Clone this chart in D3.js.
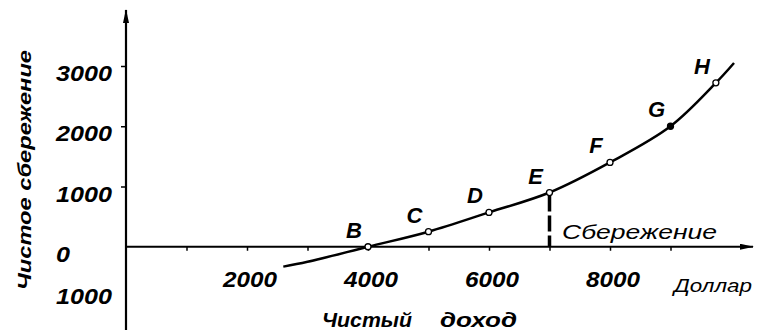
<!DOCTYPE html>
<html>
<head>
<meta charset="utf-8">
<script src="https://cdn.jsdelivr.net/npm/d3@7"></script>
<style>
  body { margin: 0; background: #fff; }
  svg { display: block; }
  .lbl { font-family: 'Liberation Sans', Arial, sans-serif; font-style: italic; font-weight: bold; fill: #000; }
</style>
</head>
<body>
<div id="chart"></div>
<script>
// curve of saving against income
const incomeValues = [2600, 3000, 4000, 5000, 6000, 7000, 8000, 9000, 9750, 10050];
const savingValues = [-330, -250, 0, 250, 570, 900, 1400, 2000, 2720, 3050];

// marked points
const pointLabels = ['B', 'C', 'D', 'E', 'F', 'G', 'H'];
const pointIncome = [4000, 5000, 6000, 7000, 8000, 9000, 9750];
const pointSaving = [0, 250, 570, 900, 1400, 2000, 2720];
const filledPoints = ['G'];

// ticks
const xTicks = [1000, 2000, 3000, 4000, 5000, 6000, 7000, 8000, 9000];
const xTickLabels = [2000, 4000, 6000, 8000];
const yTicks = [1000, 2000, 3000];
const yTickLabels = [3000, 2000, 1000, 0, -1000];

const savingIncome = 7000;

//Chart dimensions
const width = 763;
const height = 333;

// Scale
const xScale = d3.scaleLinear()
  .domain([0, 10000])
  .range([126, 731]);

const yScale = d3.scaleLinear()
  .domain([-1000, 3000])
  .range([307, 66]);

const svg = d3.select('#chart').append('svg')
  .attr('width', width)
  .attr('height', height);

const defs = svg.append('defs');
defs.append('marker')
  .attr('id', 'arrow')
  .attr('viewBox', '0 0 14 6')
  .attr('refX', 13)
  .attr('refY', 3)
  .attr('markerWidth', 14)
  .attr('markerHeight', 6)
  .attr('markerUnits', 'userSpaceOnUse')
  .attr('orient', 'auto')
  .append('path')
  .attr('d', 'M0,0 L14,3 L0,6 Z')
  .attr('fill', '#000');

//Axes lines with arrows
svg.append('line')
  .attr('x1', xScale(0)).attr('x2', 753)
  .attr('y1', yScale(0)).attr('y2', yScale(0))
  .attr('stroke', '#000').attr('stroke-width', 2)
  .attr('marker-end', 'url(#arrow)');

svg.append('line')
  .attr('x1', xScale(0)).attr('x2', xScale(0))
  .attr('y1', 330).attr('y2', 10)
  .attr('stroke', '#000').attr('stroke-width', 2.2)
  .attr('marker-end', 'url(#arrow)');

//Tick marks
const xAxis = d3.axisBottom(xScale)
  .tickValues(xTicks)
  .tickSize(4)
  .tickFormat('');

svg.append('g')
  .attr('transform', `translate(0, ${yScale(0)})`)
  .call(xAxis)
  .call(g => g.select('.domain').remove())
  .selectAll('line').attr('stroke-width', 1.5);

const yAxis = d3.axisLeft(yScale)
  .tickValues(yTicks)
  .tickSize(5)
  .tickFormat('');

svg.append('g')
  .attr('transform', `translate(${xScale(0)}, 0)`)
  .call(yAxis)
  .call(g => g.select('.domain').remove())
  .selectAll('line').attr('stroke-width', 1.5);

//Tick labels
svg.append('g').selectAll('text')
  .data(xTickLabels)
  .join('text')
  .attr('class', 'lbl')
  .attr('x', d => xScale(d) + 3)
  .attr('y', yScale(0) + 40)
  .attr('text-anchor', 'middle')
  .style('font-size', '22px')
  .attr('textLength', 54)
  .attr('lengthAdjust', 'spacingAndGlyphs')
  .text(d => d);

// labels start at the same left edge, "0" too
svg.append('g').selectAll('text')
  .data(yTickLabels)
  .join('text')
  .attr('class', 'lbl')
  .attr('x', 56)
  .attr('y', d => yScale(d) + (d < 0 ? -3 : 15))
  .attr('text-anchor', 'start')
  .style('font-size', '22px')
  .attr('textLength', d => String(Math.abs(d)).length * 14)
  .attr('lengthAdjust', 'spacingAndGlyphs')
  .text(d => Math.abs(d));

//Axis titles
svg.append('text')
  .attr('class', 'lbl')
  .attr('x', 674).attr('y', 292)
  .style('font-size', '18px')
  .style('font-weight', 'normal')
  .attr('textLength', 78)
  .attr('lengthAdjust', 'spacingAndGlyphs')
  .text('Доллар');

svg.append('text')
  .attr('class', 'lbl')
  .attr('x', 322).attr('y', 327)
  .style('font-size', '20px')
  .attr('textLength', 90)
  .attr('lengthAdjust', 'spacingAndGlyphs')
  .text('Чистый');

svg.append('text')
  .attr('class', 'lbl')
  .attr('x', 440).attr('y', 327)
  .style('font-size', '20px')
  .attr('textLength', 77)
  .attr('lengthAdjust', 'spacingAndGlyphs')
  .text('доход');

svg.append('text')
  .attr('class', 'lbl')
  .attr('transform', 'translate(31, 170) rotate(-90)')
  .attr('text-anchor', 'middle')
  .style('font-size', '19px')
  .attr('textLength', 240)
  .attr('lengthAdjust', 'spacingAndGlyphs')
  .text('Чистое сбережение');

//Saving curve
const curveData = incomeValues.map((x, i) => ({ income: x, saving: savingValues[i] }));

const savingLine = d3.line()
  .x(d => xScale(d.income))
  .y(d => yScale(d.saving))
  .curve(d3.curveCatmullRom);

svg.append('path')
  .attr('d', savingLine(curveData))
  .attr('fill', 'none')
  .attr('stroke', '#000')
  .attr('stroke-width', 2.5);

//Saving at E
svg.append('line')
  .attr('x1', xScale(savingIncome)).attr('x2', xScale(savingIncome))
  .attr('y1', yScale(pointSaving[pointLabels.indexOf('E')]) + 3)
  .attr('y2', yScale(0))
  .attr('stroke', '#000')
  .attr('stroke-width', 3.5)
  .attr('stroke-dasharray', '16,4');

svg.append('text')
  .attr('class', 'lbl')
  .attr('x', 562).attr('y', 239)
  .style('font-size', '21px')
  .style('font-weight', 'normal')
  .attr('textLength', 155)
  .attr('lengthAdjust', 'spacingAndGlyphs')
  .text('Сбережение');

//Points
const points = pointLabels.map((k, i) => ({ key: k, income: pointIncome[i], saving: pointSaving[i] }));

svg.append('g').selectAll('circle')
  .data(points)
  .join('circle')
  .attr('cx', d => xScale(d.income))
  .attr('cy', d => yScale(d.saving))
  .attr('r', 3)
  .attr('fill', d => filledPoints.includes(d.key) ? '#000' : '#fff')
  .attr('stroke', '#000')
  .attr('stroke-width', 1.3);

svg.append('g').selectAll('text')
  .data(points)
  .join('text')
  .attr('class', 'lbl')
  .attr('x', d => xScale(d.income) - 14)
  .attr('y', d => yScale(d.saving) - 9)
  .attr('text-anchor', 'middle')
  .style('font-size', '22px')
  .text(d => d.key);
</script>
</body>
</html>
